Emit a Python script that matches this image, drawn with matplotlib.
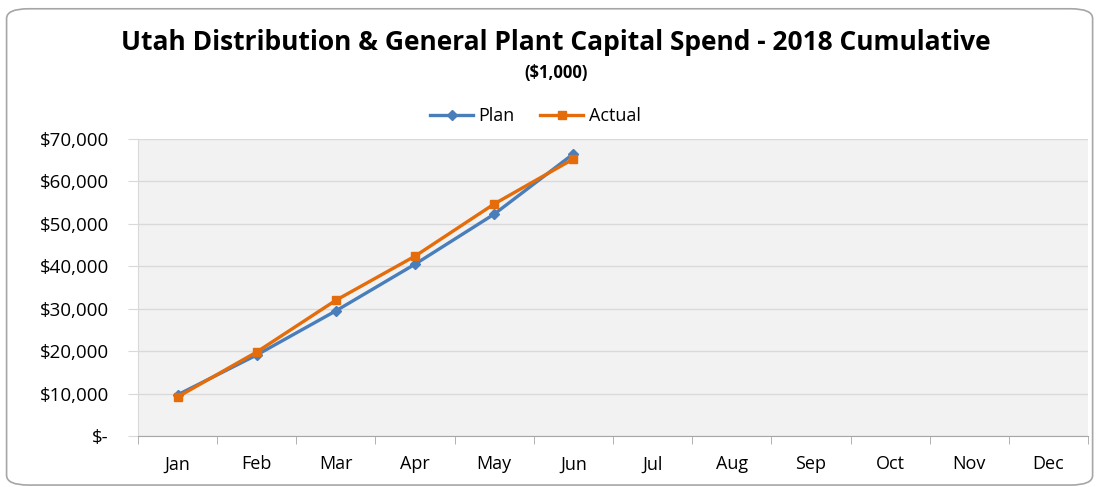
import matplotlib.pyplot as plt
from matplotlib.patches import FancyBboxPatch
from matplotlib.ticker import FuncFormatter

months = ["Jan", "Feb", "Mar", "Apr", "May", "Jun", "Jul", "Aug", "Sep", "Oct", "Nov", "Dec"]
plan = [9700, 19100, 29500, 40500, 52300, 66500]
actual = [9200, 19800, 32000, 42400, 54700, 65300]

plt.rcParams["font.family"] = ["Open Sans", "DejaVu Sans"]

fig = plt.figure(figsize=(10.97, 4.87), dpi=100)
fig.patch.set_facecolor("white")

# rounded chart border
border = FancyBboxPatch((0.006, 0.004), 0.99, 0.978, boxstyle="round,pad=0,rounding_size=0.02",
                        transform=fig.transFigure, facecolor="white", edgecolor="#A6A6A6",
                        linewidth=1.2, zorder=-10)
fig.patches.append(border)

ax = fig.add_axes([138 / 1097, 1 - 436 / 487, (1088 - 138) / 1097, (436 - 139) / 487])
ax.set_facecolor("#F2F2F2")

x = list(range(len(months)))
ax.plot(x[:len(plan)], plan, color="#4A7EBB", marker="D", markersize=5, linewidth=2.4, label="Plan", zorder=3)
ax.plot(x[:len(actual)], actual, color="#E46C0A", marker="s", markersize=5.5, linewidth=2.4, label="Actual", zorder=4)

ax.set_xlim(-0.5, 11.5)
ax.set_ylim(0, 70000)
ax.set_yticks(range(0, 70001, 10000))
ax.yaxis.set_major_formatter(FuncFormatter(lambda v, p: "$-" if v == 0 else f"${v:,.0f}"))
ax.grid(axis="y", color="#D9D9D9", linewidth=1)
ax.set_axisbelow(True)

ax.set_xticks(x)
ax.set_xticklabels(months)
ax.set_xticks([i - 0.5 for i in range(13)], minor=True)
ax.tick_params(axis="x", which="major", length=0, pad=14, labelsize=13)
ax.tick_params(axis="x", which="minor", length=6, color="#A6A6A6")
ax.tick_params(axis="y", length=7, color="#D9D9D9", labelsize=13.5, pad=14)

for s in ["top", "right"]:
    ax.spines[s].set_visible(False)
ax.spines["left"].set_color("#D9D9D9")
ax.spines["bottom"].set_color("#A6A6A6")

fig.text(0.507, 1 - 43 / 487, "Utah Distribution & General Plant Capital Spend - 2018 Cumulative",
         ha="center", va="center", fontsize=19, fontweight="bold")
fig.text(0.507, 1 - 73 / 487, "($1,000)", ha="center", va="center", fontsize=12, fontweight="bold")

fig.legend(loc="center", bbox_to_anchor=(0.488, 1 - 116 / 487), ncol=2, frameon=False,
           fontsize=13, handlelength=2.4, columnspacing=1.4, handletextpad=0.3)

fig.savefig("out.png", dpi=100)
